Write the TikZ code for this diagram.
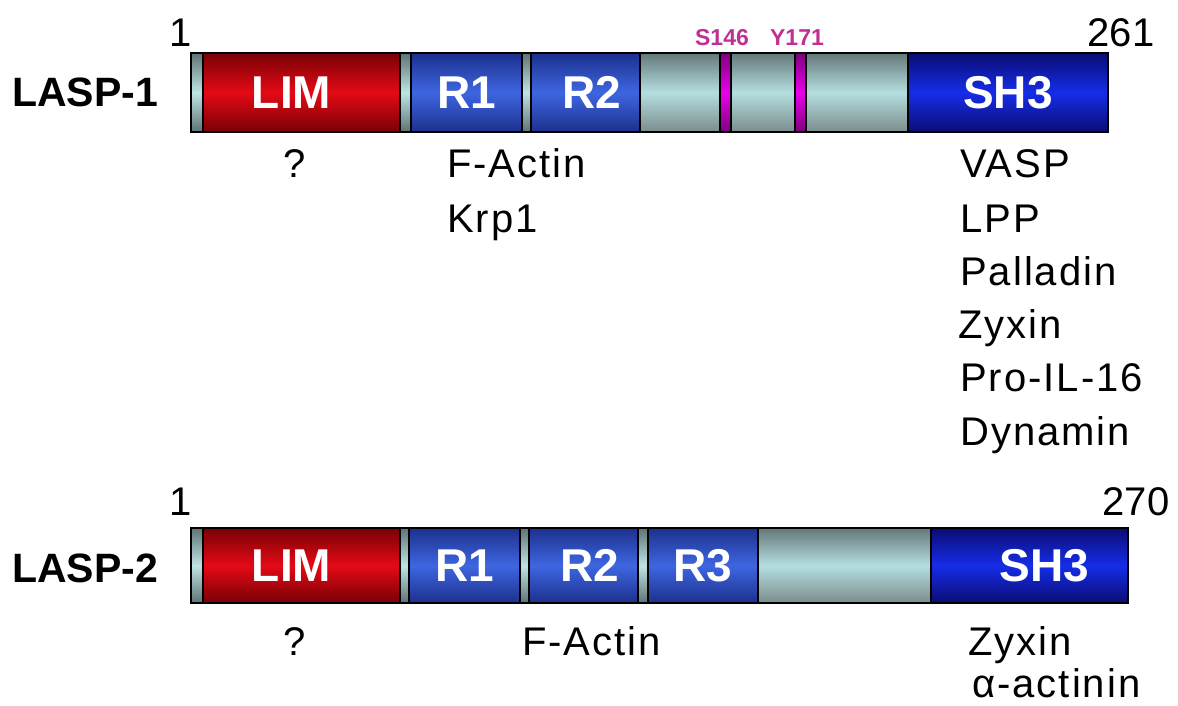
\documentclass[tikz,border=0pt]{standalone}
\usepackage{fontspec}
\setmainfont{Liberation Sans}
\newfontfamily\partnerfont[LetterSpace=5]{Liberation Sans}
\definecolor{capedge}{RGB}{95,115,115}
\definecolor{capmid}{RGB}{190,228,228}
\definecolor{limedge}{RGB}{120,0,5}
\definecolor{limmid}{RGB}{228,10,22}
\definecolor{repedge}{RGB}{28,48,140}
\definecolor{repmid}{RGB}{62,102,225}
\definecolor{shedge}{RGB}{10,12,115}
\definecolor{shmid}{RGB}{22,45,232}
\definecolor{linkedge}{RGB}{100,120,120}
\definecolor{linkmid}{RGB}{180,222,224}
\definecolor{magedge}{RGB}{125,0,125}
\definecolor{magmid}{RGB}{235,0,235}
\definecolor{sitecol}{RGB}{192,48,148}
\tikzset{
  dom/.style={draw=black, line width=1.1pt, inner sep=0pt, outer sep=0pt,
    anchor=north west},
  capseg/.style={top color=capedge, bottom color=capedge, middle color=capmid},
  limseg/.style={top color=limedge, bottom color=limedge, middle color=limmid},
  repseg/.style={top color=repedge, bottom color=repedge, middle color=repmid},
  shseg/.style={top color=shedge, bottom color=shedge, middle color=shmid},
  linkseg/.style={top color=linkedge, bottom color=linkedge!85!white, middle color=linkmid},
  magseg/.style={top color=magedge, bottom color=magedge, middle color=magmid},
  domtext/.style={text=white, font=\fontsize{46}{46}\selectfont\bfseries, inner sep=0pt},
  protname/.style={anchor=base west, font=\fontsize{41}{41}\selectfont\bfseries, inner sep=0pt},
  resnum/.style={anchor=base, font=\fontsize{40}{40}\selectfont, inner sep=0pt},
  partner/.style={anchor=base west, font=\fontsize{40}{40}\partnerfont, inner sep=0pt},
  site/.style={anchor=base, text=sitecol, font=\fontsize{23}{23}\selectfont\bfseries, inner sep=0pt},
}
% \domseg{name}{style}{x left}{x right}{y top}{height}
\newcommand\domseg[6]{%
  \node[dom,#2,minimum width={(#4-#3)*1pt},minimum height={#6*1pt}] (#1) at (#3,#5) {};}
\begin{document}
\begin{tikzpicture}[x=1pt,y=-1pt]
\useasboundingbox (0,0) rectangle (1178,706);

% ---------- LASP-1 ----------
\domseg{aCap}{capseg}{191}{203}{53}{79}
\domseg{aLIM}{limseg}{203}{400}{53}{79}
\domseg{aSpA}{capseg}{400}{411}{53}{79}
\domseg{aR1}{repseg}{411}{522}{53}{79}
\domseg{aSpB}{capseg}{522}{531}{53}{79}
\domseg{aR2}{repseg}{531}{640}{53}{79}
\domseg{aLkA}{linkseg}{640}{720}{53}{79}
\domseg{aS146}{magseg}{720}{731}{53}{79}
\domseg{aLkB}{linkseg}{731}{795}{53}{79}
\domseg{aY171}{magseg}{795}{806}{53}{79}
\domseg{aLkC}{linkseg}{806}{908}{53}{79}
\domseg{aSH3}{shseg}{908}{1108}{53}{79}
\draw[line width=1.3pt] (aCap.north west) rectangle (aSH3.south east);

\node[domtext] at ([xshift=-10pt]aLIM.center) {LIM};
\node[domtext] at (aR1.center) {R1};
\node[domtext] at ([xshift=6pt]aR2.center) {R2};
\node[domtext] at (aSH3.center) {SH3};

\node[protname] (aName) at (12,107) {LASP-1};
\node[resnum] (aStart) at (181,47) {1};
\node[resnum] (aEnd) at (1121,47) {261};
\node[site] (aSiteS) at (722,46) {S146};
\node[site] (aSiteY) at (797,46) {Y171};

\node[partner] (aQ) at (283,178) {?};
\node[partner] (aFA) at (447,178) {F-Actin};
\node[partner] (aKrp) at (447,232) {Krp1};
\node[partner] (aVASP) at (960,178) {VASP};
\node[partner] (aLPP) at (960,232) {LPP};
\node[partner] (aPal) at (960,285) {Palladin};
\node[partner] (aZyx) at (958,338) {Zyxin};
\node[partner] (aPro) at (960,391) {Pro-IL-16};
\node[partner] (aDyn) at (960,445) {Dynamin};

% ---------- LASP-2 ----------
\domseg{bCap}{capseg}{191}{203}{528}{75}
\domseg{bLIM}{limseg}{203}{400}{528}{75}
\domseg{bSpA}{capseg}{400}{409}{528}{75}
\domseg{bR1}{repseg}{409}{520}{528}{75}
\domseg{bSpB}{capseg}{520}{529}{528}{75}
\domseg{bR2}{repseg}{529}{638}{528}{75}
\domseg{bSpC}{capseg}{638}{648}{528}{75}
\domseg{bR3}{repseg}{648}{758}{528}{75}
\domseg{bLk}{linkseg}{758}{931}{528}{75}
\domseg{bSH3}{shseg}{931}{1128}{528}{75}
\draw[line width=1.3pt] (bCap.north west) rectangle (bSH3.south east);

\node[domtext] at ([xshift=-10pt]bLIM.center) {LIM};
\node[domtext] at (bR1.center) {R1};
\node[domtext] at ([xshift=6pt]bR2.center) {R2};
\node[domtext] at (bR3.center) {R3};
\node[domtext] at ([xshift=15pt]bSH3.center) {SH3};

\node[protname] (bName) at (12,582) {LASP-2};
\node[resnum] (bStart) at (181,515) {1};
\node[resnum] (bEnd) at (1136,515) {270};

\node[partner] (bQ) at (283,655) {?};
\node[partner] (bFA) at (522,655) {F-Actin};
\node[partner] (bZyx) at (968,655) {Zyxin};
\node[partner] (bAct) at (972,697) {α-actinin};
\end{tikzpicture}
\end{document}
